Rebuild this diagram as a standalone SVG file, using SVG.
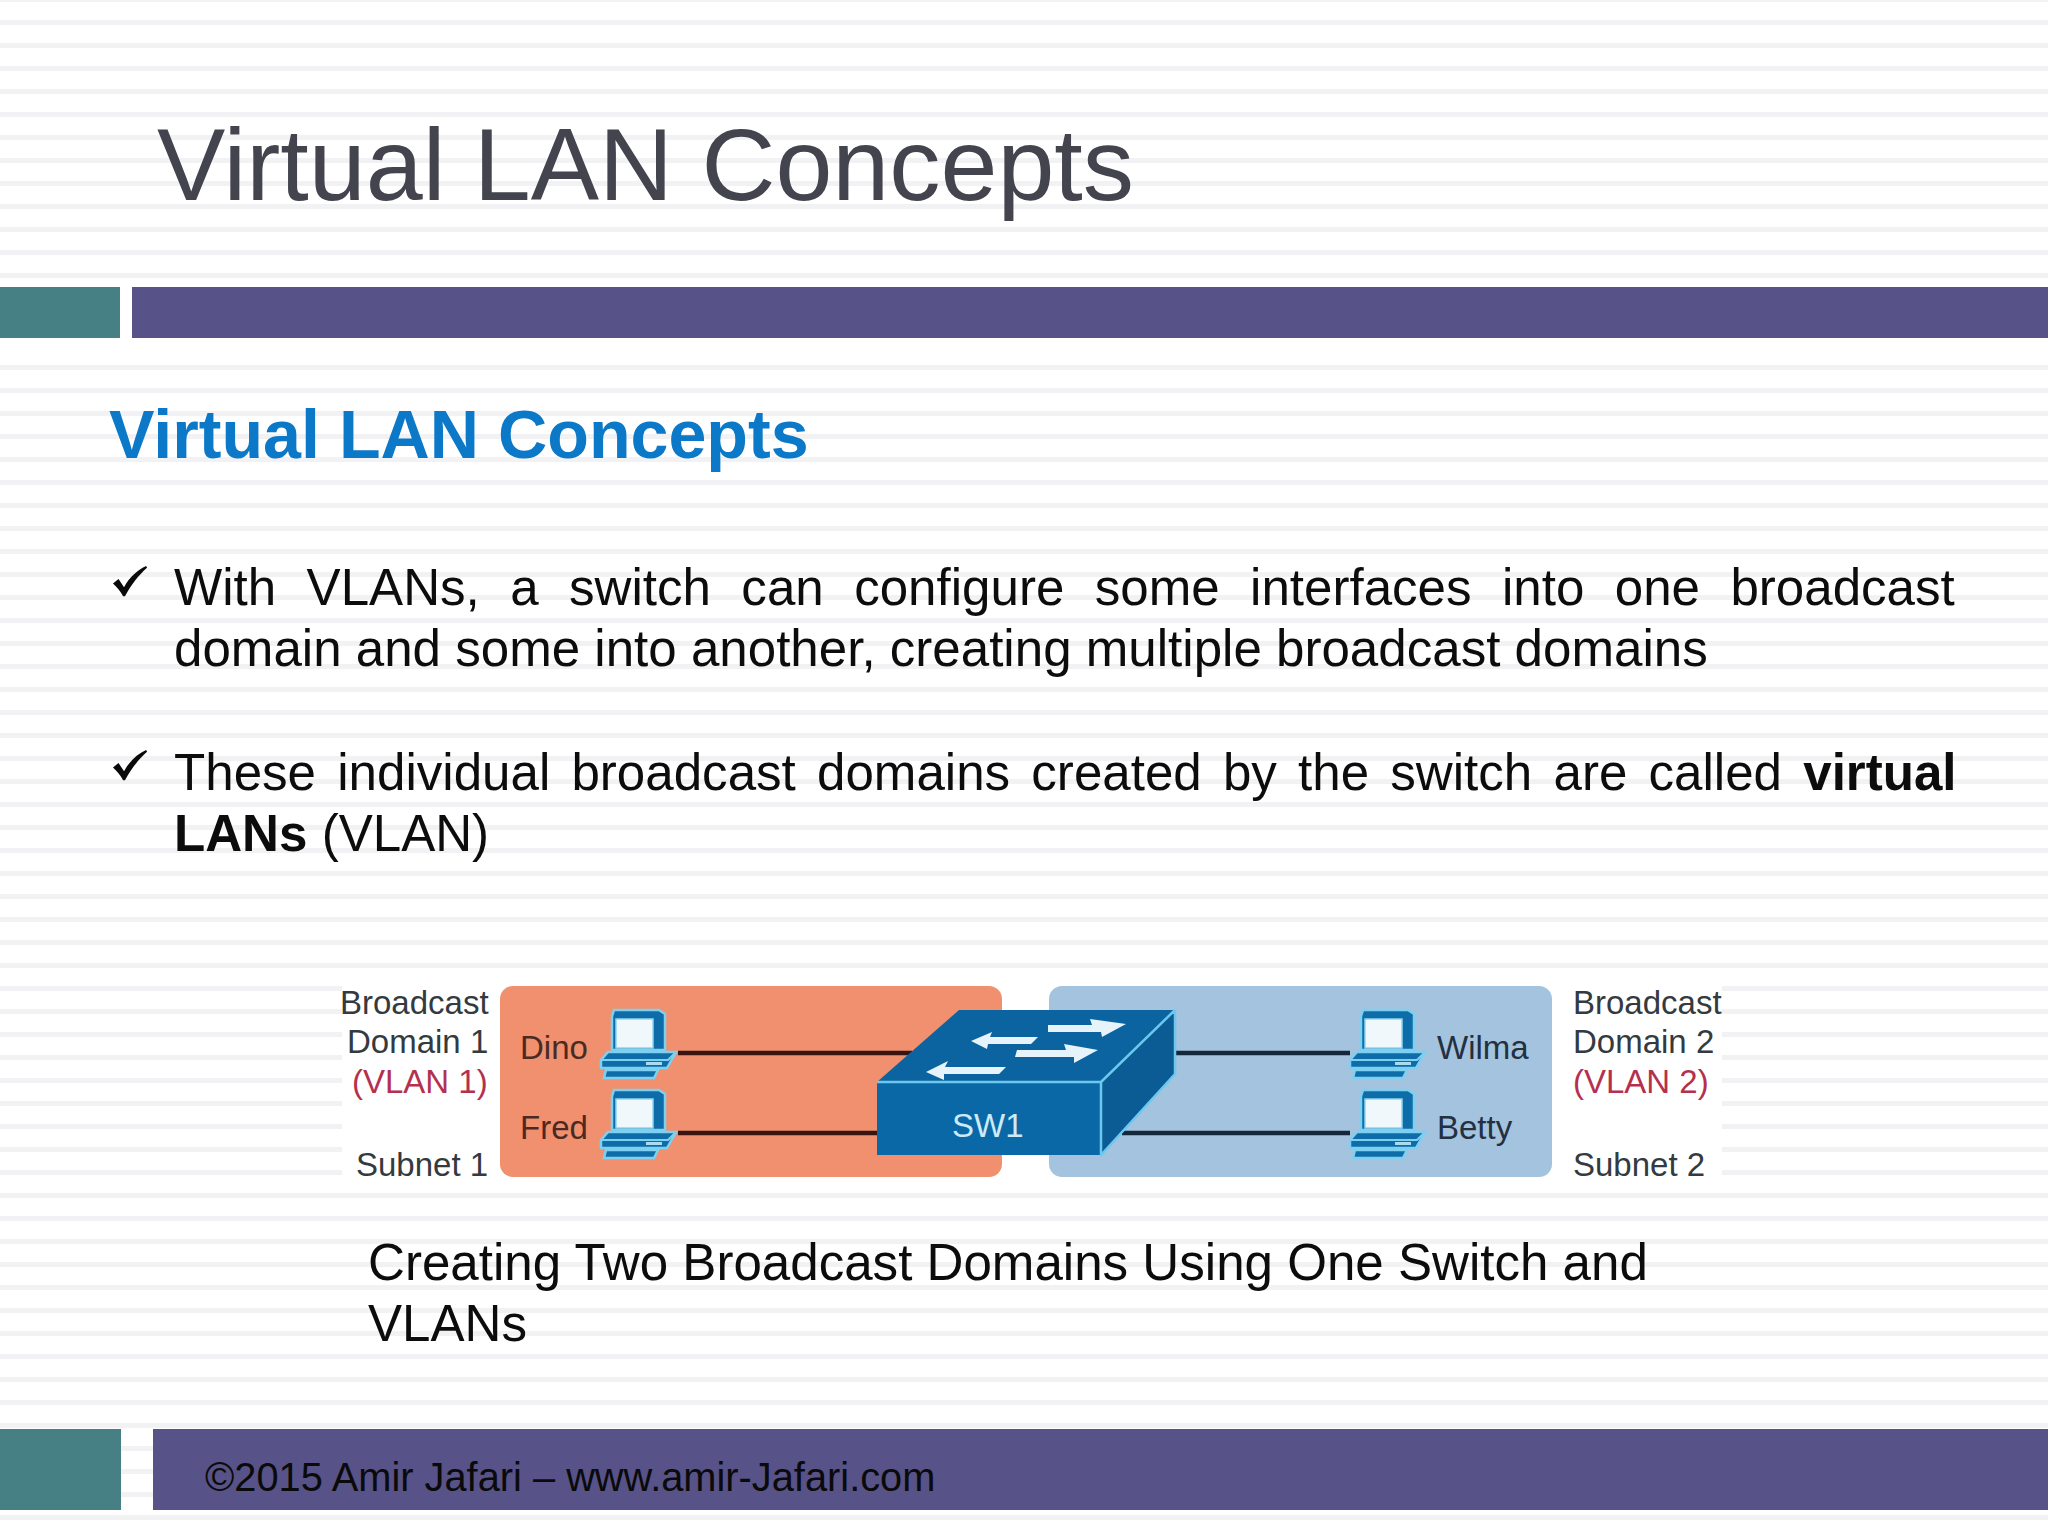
<svg xmlns="http://www.w3.org/2000/svg" xmlns:xlink="http://www.w3.org/1999/xlink" width="2048" height="1536" viewBox="0 0 2048 1536">
<style>
text{font-family:"Liberation Sans",Arial,sans-serif}
.body{font-size:51.1px;fill:#0c0c0c}
.lab{font-size:33px;fill:#333a40}
.red{font-size:33px;fill:#b5304f}
.inL{font-size:33px;fill:#4a2a22}
.inR{font-size:33px;fill:#23303f}
.link{stroke:#3a1410;stroke-width:4.5;fill:none}
.linkB{stroke:#14283c;stroke-width:4.5;fill:none}
.arrow{fill:#e6f3fa}
.edge{stroke:#6cc8ee;stroke-width:2.5;stroke-linejoin:round}
</style>
<defs>
<pattern id="stripes" width="10" height="23" patternUnits="userSpaceOnUse" patternTransform="translate(0 -3)">
<rect width="10" height="5" fill="#f2f2f4"/>
</pattern>
<g id="pc">
<path d="M14 0H59L65 4V40H12V6Z" fill="#0e6ca8" stroke="#7fd0f0" stroke-width="2.5"/>
<rect x="16" y="9" width="37" height="29" fill="#f0f8fb" stroke="#8fd6f0" stroke-width="1.5"/>
<path d="M8 42H76L67 58H1V50Z" fill="#0e6ca8" stroke="#7fd0f0" stroke-width="2.5"/>
<path d="M1 50H68L76 42" fill="none" stroke="#7fd0f0" stroke-width="2"/>
<rect x="46" y="52" width="16" height="3" fill="#a8dcf0"/>
<path d="M6 60H58L54 68H4Z" fill="#0e6ca8" stroke="#7fd0f0" stroke-width="2.5"/>
</g>
<path id="chk" d="M0 19L6 14L12 23C18 12 27 4 36 0L37 2C28 10 20 20 13 33H11C8 27 4 23 0 19Z" fill="#0a0a0a"/>
</defs>
<rect width="2048" height="1536" fill="#fff"/>
<rect width="2048" height="1522" fill="url(#stripes)"/>
<rect y="279" width="2048" height="84" fill="#fff"/>
<g id="title"><text x="157" y="200" font-size="102.4" fill="#44444f">Virtual LAN Concepts</text></g>
<g id="header-bars">
<rect x="0" y="287" width="120" height="51" fill="#468085"/>
<rect x="132" y="287" width="1916" height="51" fill="#575287"/>
</g>
<g id="heading"><text x="109" y="458" font-size="68.2" font-weight="700" fill="#0b78c8">Virtual LAN Concepts</text></g>
<g id="bullets">
<use xlink:href="#chk" href="#chk" transform="translate(113 566) scale(.92)"/>
<text class="body" x="174" y="605" word-spacing="16.2">With VLANs, a switch can configure some interfaces into one broadcast</text>
<text class="body" x="174" y="666">domain and some into another, creating multiple broadcast domains</text>
<use xlink:href="#chk" href="#chk" transform="translate(113 750) scale(.92)"/>
<text class="body" y="790" x="174" word-spacing="7">These individual broadcast domains created by the switch are called <tspan font-weight="700">virtual</tspan></text>
<text class="body" x="174" y="851"><tspan font-weight="700">LANs</tspan> (VLAN)</text>
</g>
<g id="diagram-backdrop"><rect x="342" y="980" width="1380" height="202" fill="#fff"/></g>
<g id="domain-1">
<rect x="500" y="986" width="502" height="191" rx="13" fill="#f0906f"/>
<text class="lab" x="340" y="1014">Broadcast</text>
<text class="lab" x="347" y="1053">Domain 1</text>
<text class="red" x="352" y="1093">(VLAN 1)</text>
<text class="lab" x="356" y="1176">Subnet 1</text>
</g>
<g id="domain-2">
<rect x="1049" y="986" width="503" height="191" rx="13" fill="#a3c3df"/>
<text class="lab" x="1573" y="1014">Broadcast</text>
<text class="lab" x="1573" y="1053">Domain 2</text>
<text class="red" x="1573" y="1093">(VLAN 2)</text>
<text class="lab" x="1573" y="1176">Subnet 2</text>
</g>
<g id="connectors">
<path class="link" d="M678 1053H912"/>
<path class="link" d="M678 1133H880"/>
<path class="linkB" d="M1176 1053H1350"/>
<path class="linkB" d="M1122 1133H1350"/>
</g>
<g id="dino"><use xlink:href="#pc" href="#pc" x="600" y="1010"/><text class="inL" x="520" y="1059">Dino</text></g>
<g id="fred"><use xlink:href="#pc" href="#pc" x="600" y="1090"/><text class="inL" x="520" y="1139">Fred</text></g>
<g id="wilma"><use xlink:href="#pc" href="#pc" x="1349" y="1010"/><text class="inR" x="1437" y="1059">Wilma</text></g>
<g id="betty"><use xlink:href="#pc" href="#pc" x="1349" y="1090"/><text class="inR" x="1437" y="1139">Betty</text></g>
<g id="sw1">
<path d="M877 1082L959 1010H1175L1101 1082Z" fill="#0b649f"/>
<path d="M1101 1082L1175 1010V1074L1101 1155Z" fill="#0b5c94"/>
<rect x="877" y="1082" width="224" height="73" fill="#0b68a6"/>
<path class="edge" d="M877 1082H1101L1175 1010M1101 1082V1155L1175 1074V1010" fill="none"/>
<path class="arrow" d="M971 1041L992 1032L990 1037H1038L1031 1044H988L987 1049Z"/>
<path class="arrow" d="M926 1072L948 1061L945 1067H1006L999 1074H944L944 1080Z"/>
<path class="arrow" d="M1048 1025H1092L1090 1019L1126 1024L1102 1037L1101 1032H1048Z"/>
<path class="arrow" d="M1017 1050H1066L1064 1044L1098 1050L1074 1063L1074 1057H1015Z"/>
<text x="952" y="1137" font-size="33" fill="#cdeaf6">SW1</text>
</g>
<g id="caption">
<text class="body" x="368" y="1280">Creating Two Broadcast Domains Using One Switch and</text>
<text class="body" x="368" y="1341">VLANs</text>
</g>
<g id="footer">
<rect x="0" y="1429" width="121" height="81" fill="#468085"/>
<rect x="153" y="1429" width="1895" height="81" fill="#575287"/>
<text x="205" y="1491" font-size="39.8" fill="#0a0a0a">©2015 Amir Jafari – www.amir-Jafari.com</text>
</g>
</svg>
